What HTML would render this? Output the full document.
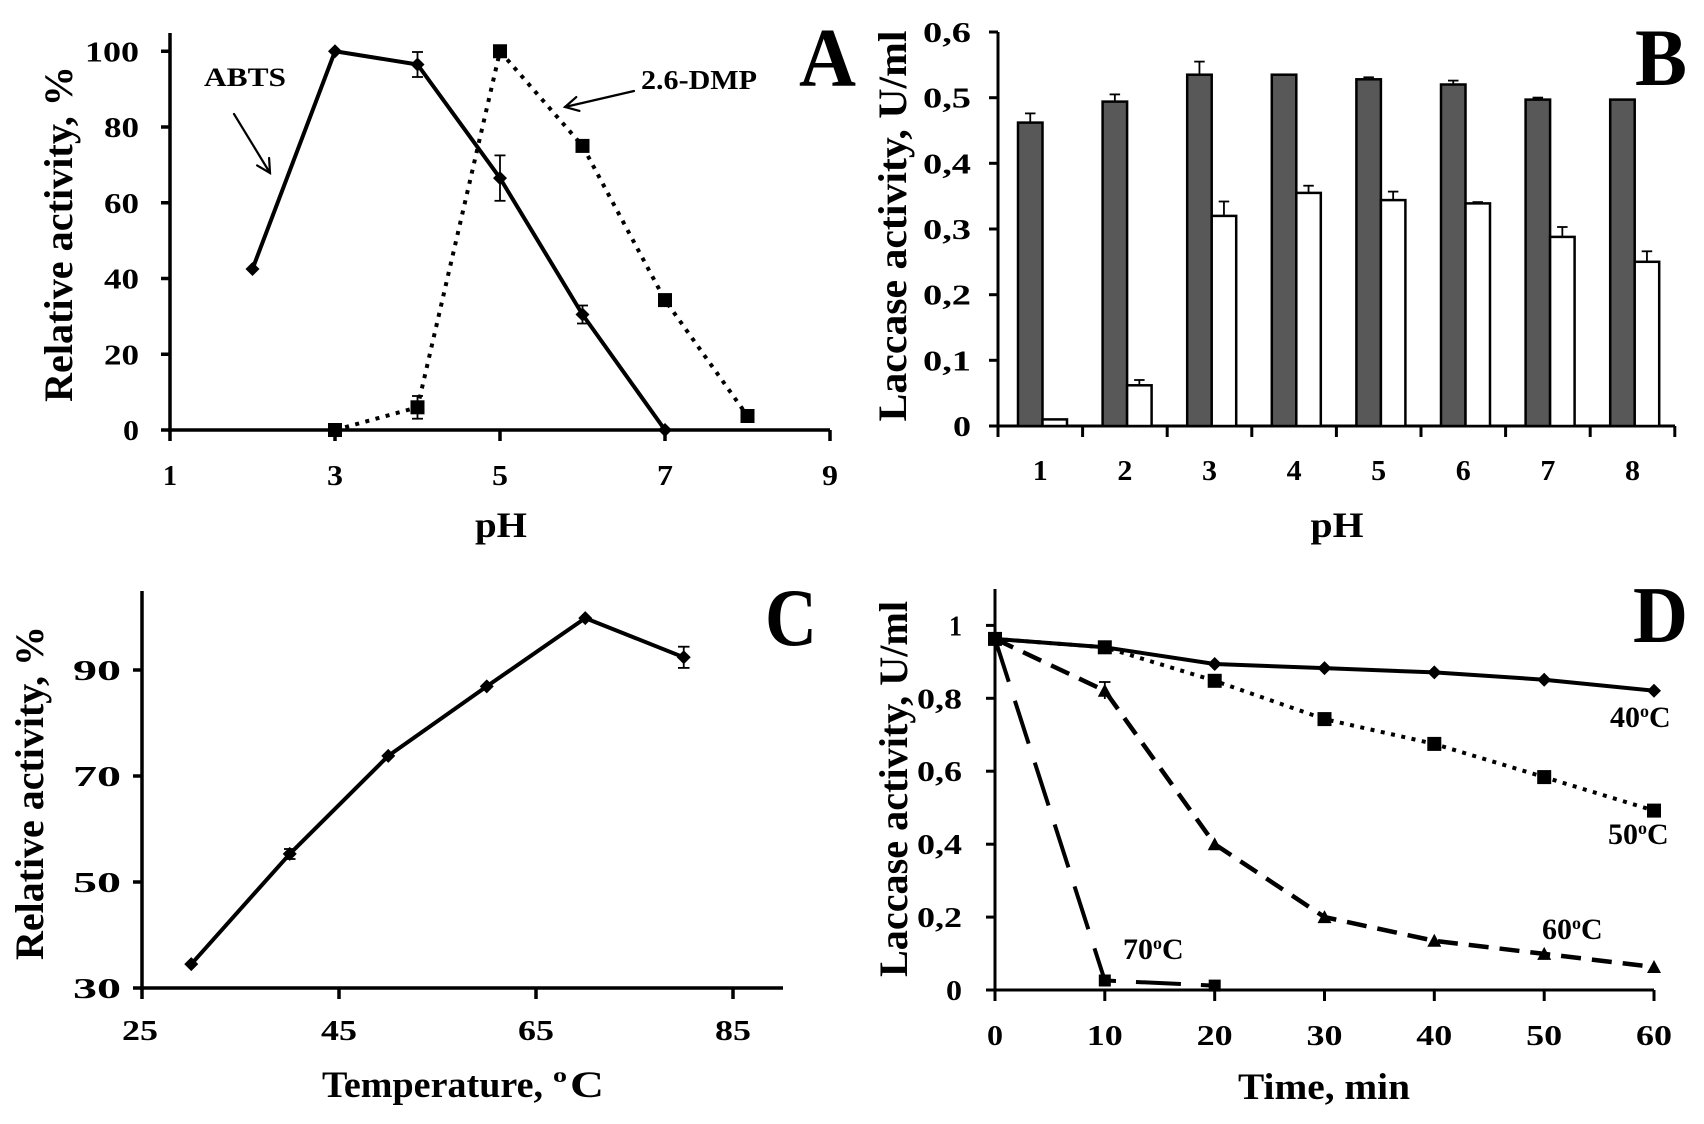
<!DOCTYPE html>
<html><head><meta charset="utf-8">
<style>
html,body{margin:0;padding:0;background:#fff;}
svg{display:block;}
text{font-family:"Liberation Serif","Times New Roman",serif;font-weight:bold;fill:#000;}
</style></head><body>
<svg width="1704" height="1124" viewBox="0 0 1704 1124" xmlns="http://www.w3.org/2000/svg">
<rect width="1704" height="1124" fill="#fff"/>

<!-- ================= PANEL A ================= -->
<g stroke="#000" stroke-width="3.5" fill="none">
  <line x1="170" y1="33" x2="170" y2="432"/>
  <line x1="168" y1="430" x2="830" y2="430"/>
  <line x1="161" y1="430" x2="170" y2="430"/>
  <line x1="161" y1="354.25" x2="170" y2="354.25"/>
  <line x1="161" y1="278.5" x2="170" y2="278.5"/>
  <line x1="161" y1="202.75" x2="170" y2="202.75"/>
  <line x1="161" y1="127" x2="170" y2="127"/>
  <line x1="161" y1="51.25" x2="170" y2="51.25"/>
  <line x1="170" y1="430" x2="170" y2="441"/>
  <line x1="335" y1="430" x2="335" y2="441"/>
  <line x1="500" y1="430" x2="500" y2="441"/>
  <line x1="665" y1="430" x2="665" y2="441"/>
  <line x1="830" y1="430" x2="830" y2="441"/>
</g>
<g font-size="29" text-anchor="end">
  <text x="139" y="440" textLength="16" lengthAdjust="spacingAndGlyphs">0</text>
  <text x="139" y="364.25" textLength="35" lengthAdjust="spacingAndGlyphs">20</text>
  <text x="139" y="288.5" textLength="35" lengthAdjust="spacingAndGlyphs">40</text>
  <text x="139" y="212.75" textLength="35" lengthAdjust="spacingAndGlyphs">60</text>
  <text x="139" y="137" textLength="35" lengthAdjust="spacingAndGlyphs">80</text>
  <text x="139" y="61.25" textLength="54" lengthAdjust="spacingAndGlyphs">100</text>
</g>
<g font-size="29" text-anchor="middle">
  <text x="170" y="485" textLength="14" lengthAdjust="spacingAndGlyphs">1</text>
  <text x="335" y="485" textLength="16" lengthAdjust="spacingAndGlyphs">3</text>
  <text x="500" y="485" textLength="16" lengthAdjust="spacingAndGlyphs">5</text>
  <text x="665" y="485" textLength="16" lengthAdjust="spacingAndGlyphs">7</text>
  <text x="830" y="485" textLength="16" lengthAdjust="spacingAndGlyphs">9</text>
</g>
<text x="501" y="537" font-size="36" text-anchor="middle" textLength="52" lengthAdjust="spacingAndGlyphs">pH</text>
<text transform="translate(72,234) rotate(-90)" font-size="40" text-anchor="middle" textLength="336" lengthAdjust="spacingAndGlyphs">Relative activity, %</text>
<text x="799" y="86" font-size="84" textLength="57" lengthAdjust="spacingAndGlyphs">A</text>

<polyline points="335,430 417.5,407.3 500,51.25 582.5,145.9 665,300.1 747.5,416" fill="none" stroke="#000" stroke-width="4" stroke-dasharray="4 6.5"/>
<polyline points="252.5,269 335,51.25 417.5,64.5 500,178.1 582.5,314.5 665,430" fill="none" stroke="#000" stroke-width="4" stroke-linejoin="round"/>
<g stroke="#000" stroke-width="1.8">
  <line x1="417.5" y1="52" x2="417.5" y2="77"/><line x1="412" y1="52" x2="423" y2="52"/><line x1="412" y1="77" x2="423" y2="77"/>
  <line x1="500" y1="155.4" x2="500" y2="200.8"/><line x1="494.5" y1="155.4" x2="505.5" y2="155.4"/><line x1="494.5" y1="200.8" x2="505.5" y2="200.8"/>
  <line x1="582.5" y1="305.5" x2="582.5" y2="323.5"/><line x1="577" y1="305.5" x2="588" y2="305.5"/><line x1="577" y1="323.5" x2="588" y2="323.5"/>
  <line x1="417.5" y1="396" x2="417.5" y2="418.7"/><line x1="412" y1="396" x2="423" y2="396"/><line x1="412" y1="418.7" x2="423" y2="418.7"/>
</g>
<g fill="#000">
  <path d="M252.5,262 L259.5,269 L252.5,276 L245.5,269 Z"/>
  <path d="M335,44.25 L342,51.25 L335,58.25 L328,51.25 Z"/>
  <path d="M417.5,57.5 L424.5,64.5 L417.5,71.5 L410.5,64.5 Z"/>
  <path d="M500,171.1 L507,178.1 L500,185.1 L493,178.1 Z"/>
  <path d="M582.5,307.5 L589.5,314.5 L582.5,321.5 L575.5,314.5 Z"/>
  <path d="M665,423 L672,430 L665,437 L658,430 Z"/>
  <rect x="328" y="423" width="14" height="14"/>
  <rect x="410.5" y="400.3" width="14" height="14"/>
  <rect x="493" y="44.25" width="14" height="14"/>
  <rect x="575.5" y="138.9" width="14" height="14"/>
  <rect x="658" y="293.1" width="14" height="14"/>
  <rect x="740.5" y="409" width="14" height="14"/>
</g>
<text x="204" y="86" font-size="26" textLength="82" lengthAdjust="spacingAndGlyphs">ABTS</text>
<g stroke="#000" stroke-width="2.2" fill="none" stroke-linecap="round">
  <line x1="234" y1="114" x2="270" y2="173"/>
  <polyline points="269.1,158 270,173 257.1,165.4"/>
</g>
<text x="641" y="89" font-size="27" textLength="116" lengthAdjust="spacingAndGlyphs">2.6-DMP</text>
<g stroke="#000" stroke-width="2.2" fill="none" stroke-linecap="round">
  <line x1="634" y1="91" x2="565" y2="107"/>
  <polyline points="579.5,110.9 565,107 576.3,97.1"/>
</g>

<!-- ================= PANEL B ================= -->
<g stroke="#000" stroke-width="3" fill="none">
  <line x1="998" y1="32" x2="998" y2="427.5"/>
  <line x1="996.5" y1="426" x2="1675" y2="426"/>
  <line x1="989" y1="426" x2="998" y2="426"/>
  <line x1="989" y1="360.3" x2="998" y2="360.3"/>
  <line x1="989" y1="294.7" x2="998" y2="294.7"/>
  <line x1="989" y1="229" x2="998" y2="229"/>
  <line x1="989" y1="163.3" x2="998" y2="163.3"/>
  <line x1="989" y1="97.7" x2="998" y2="97.7"/>
  <line x1="989" y1="32" x2="998" y2="32"/>
  <line x1="998" y1="426" x2="998" y2="437"/>
  <line x1="1082.6" y1="426" x2="1082.6" y2="437"/>
  <line x1="1167.2" y1="426" x2="1167.2" y2="437"/>
  <line x1="1251.8" y1="426" x2="1251.8" y2="437"/>
  <line x1="1336.4" y1="426" x2="1336.4" y2="437"/>
  <line x1="1421" y1="426" x2="1421" y2="437"/>
  <line x1="1505.6" y1="426" x2="1505.6" y2="437"/>
  <line x1="1590.2" y1="426" x2="1590.2" y2="437"/>
  <line x1="1674.8" y1="426" x2="1674.8" y2="437"/>
</g>
<g font-size="29" text-anchor="end">
  <text x="971" y="436" textLength="18" lengthAdjust="spacingAndGlyphs">0</text>
  <text x="971" y="370.3" textLength="48" lengthAdjust="spacingAndGlyphs">0,1</text>
  <text x="971" y="304.7" textLength="48" lengthAdjust="spacingAndGlyphs">0,2</text>
  <text x="971" y="239" textLength="48" lengthAdjust="spacingAndGlyphs">0,3</text>
  <text x="971" y="173.3" textLength="48" lengthAdjust="spacingAndGlyphs">0,4</text>
  <text x="971" y="107.7" textLength="48" lengthAdjust="spacingAndGlyphs">0,5</text>
  <text x="971" y="42" textLength="48" lengthAdjust="spacingAndGlyphs">0,6</text>
</g>
<g font-size="29" text-anchor="middle">
  <text x="1040.3" y="480" textLength="15" lengthAdjust="spacingAndGlyphs">1</text>
  <text x="1124.9" y="480" textLength="15" lengthAdjust="spacingAndGlyphs">2</text>
  <text x="1209.5" y="480" textLength="15" lengthAdjust="spacingAndGlyphs">3</text>
  <text x="1294.1" y="480" textLength="15" lengthAdjust="spacingAndGlyphs">4</text>
  <text x="1378.7" y="480" textLength="15" lengthAdjust="spacingAndGlyphs">5</text>
  <text x="1463.3" y="480" textLength="15" lengthAdjust="spacingAndGlyphs">6</text>
  <text x="1547.9" y="480" textLength="15" lengthAdjust="spacingAndGlyphs">7</text>
  <text x="1632.5" y="480" textLength="15" lengthAdjust="spacingAndGlyphs">8</text>
</g>
<text x="1337" y="537" font-size="36" text-anchor="middle" textLength="53" lengthAdjust="spacingAndGlyphs">pH</text>
<text transform="translate(906,226) rotate(-90)" font-size="40" text-anchor="middle" textLength="391" lengthAdjust="spacingAndGlyphs">Laccase activity, U/ml</text>
<text x="1635" y="85" font-size="82" textLength="52" lengthAdjust="spacingAndGlyphs">B</text>

<g stroke="#000" stroke-width="2.5">
  <rect x="1018" y="122.6" width="24.5" height="303.4" fill="#585858"/>
  <rect x="1102.6" y="101.6" width="24.5" height="324.4" fill="#585858"/>
  <rect x="1187.2" y="74.7" width="24.5" height="351.3" fill="#585858"/>
  <rect x="1271.8" y="74.7" width="24.5" height="351.3" fill="#585858"/>
  <rect x="1356.4" y="79.3" width="24.5" height="346.7" fill="#585858"/>
  <rect x="1441" y="84.5" width="24.5" height="341.5" fill="#585858"/>
  <rect x="1525.6" y="99.6" width="24.5" height="326.4" fill="#585858"/>
  <rect x="1610.2" y="99.6" width="24.5" height="326.4" fill="#585858"/>

  <rect x="1042.5" y="419.4" width="24.5" height="6.6" fill="#fff"/>
  <rect x="1127.1" y="385.3" width="24.5" height="40.7" fill="#fff"/>
  <rect x="1211.7" y="215.9" width="24.5" height="210.1" fill="#fff"/>
  <rect x="1296.3" y="192.9" width="24.5" height="233.1" fill="#fff"/>
  <rect x="1380.9" y="200.1" width="24.5" height="225.9" fill="#fff"/>
  <rect x="1465.5" y="203.4" width="24.5" height="222.6" fill="#fff"/>
  <rect x="1550.1" y="236.9" width="24.5" height="189.1" fill="#fff"/>
  <rect x="1634.7" y="261.8" width="24.5" height="164.2" fill="#fff"/>
</g>
<g stroke="#000" stroke-width="1.8">
  <line x1="1030.25" y1="122.6" x2="1030.25" y2="113.4"/><line x1="1025" y1="113.4" x2="1035.5" y2="113.4"/>
  <line x1="1114.85" y1="101.6" x2="1114.85" y2="94.4"/><line x1="1109.6" y1="94.4" x2="1120.1" y2="94.4"/>
  <line x1="1199.45" y1="74.7" x2="1199.45" y2="61.6"/><line x1="1194.2" y1="61.6" x2="1204.7" y2="61.6"/>
  <line x1="1368.65" y1="79.3" x2="1368.65" y2="77.3"/><line x1="1363.4" y1="77.3" x2="1373.9" y2="77.3"/>
  <line x1="1453.25" y1="84.5" x2="1453.25" y2="80.6"/><line x1="1448" y1="80.6" x2="1458.5" y2="80.6"/>
  <line x1="1537.85" y1="99.6" x2="1537.85" y2="97.6"/><line x1="1532.6" y1="97.6" x2="1543.1" y2="97.6"/>

  <line x1="1139.35" y1="385.3" x2="1139.35" y2="380"/><line x1="1134.1" y1="380" x2="1144.6" y2="380"/>
  <line x1="1223.95" y1="215.9" x2="1223.95" y2="201.5"/><line x1="1218.7" y1="201.5" x2="1229.2" y2="201.5"/>
  <line x1="1308.55" y1="192.9" x2="1308.55" y2="185.7"/><line x1="1303.3" y1="185.7" x2="1313.8" y2="185.7"/>
  <line x1="1393.15" y1="200.1" x2="1393.15" y2="191.6"/><line x1="1387.9" y1="191.6" x2="1398.4" y2="191.6"/>
  <line x1="1477.75" y1="203.4" x2="1477.75" y2="202.1"/><line x1="1472.5" y1="202.1" x2="1483" y2="202.1"/>
  <line x1="1562.35" y1="236.9" x2="1562.35" y2="227"/><line x1="1557.1" y1="227" x2="1567.6" y2="227"/>
  <line x1="1646.95" y1="261.8" x2="1646.95" y2="251.3"/><line x1="1641.7" y1="251.3" x2="1652.2" y2="251.3"/>
</g>

<!-- ================= PANEL C ================= -->
<g stroke="#000" stroke-width="3.5" fill="none">
  <line x1="142" y1="591" x2="142" y2="990"/>
  <line x1="140" y1="988" x2="783" y2="988"/>
  <line x1="133" y1="988" x2="142" y2="988"/>
  <line x1="133" y1="882" x2="142" y2="882"/>
  <line x1="133" y1="776" x2="142" y2="776"/>
  <line x1="133" y1="670" x2="142" y2="670"/>
  <line x1="142" y1="988" x2="142" y2="999"/>
  <line x1="339" y1="988" x2="339" y2="999"/>
  <line x1="536" y1="988" x2="536" y2="999"/>
  <line x1="733" y1="988" x2="733" y2="999"/>
</g>
<g font-size="29" text-anchor="end">
  <text x="121" y="998" textLength="48" lengthAdjust="spacingAndGlyphs">30</text>
  <text x="121" y="892" textLength="48" lengthAdjust="spacingAndGlyphs">50</text>
  <text x="121" y="786" textLength="48" lengthAdjust="spacingAndGlyphs">70</text>
  <text x="121" y="680" textLength="48" lengthAdjust="spacingAndGlyphs">90</text>
</g>
<g font-size="29" text-anchor="middle">
  <text x="140" y="1040" textLength="36" lengthAdjust="spacingAndGlyphs">25</text>
  <text x="339" y="1040" textLength="36" lengthAdjust="spacingAndGlyphs">45</text>
  <text x="536" y="1040" textLength="36" lengthAdjust="spacingAndGlyphs">65</text>
  <text x="733" y="1040" textLength="36" lengthAdjust="spacingAndGlyphs">85</text>
</g>
<text x="322" y="1097" font-size="37" textLength="221" lengthAdjust="spacingAndGlyphs">Temperature,</text>
<text x="553" y="1082" font-size="21" textLength="14" lengthAdjust="spacingAndGlyphs">o</text>
<text x="570" y="1097" font-size="37" textLength="34" lengthAdjust="spacingAndGlyphs">C</text>
<text transform="translate(43,793) rotate(-90)" font-size="40" text-anchor="middle" textLength="334" lengthAdjust="spacingAndGlyphs">Relative activity, %</text>
<text x="765" y="645" font-size="82" textLength="52" lengthAdjust="spacingAndGlyphs">C</text>

<polyline points="191.25,964.15 289.75,853.9 388.25,755.9 486.75,686.4 585.25,618.1 683.75,657.3" fill="none" stroke="#000" stroke-width="4" stroke-linejoin="round"/>
<g stroke="#000" stroke-width="1.8">
  <line x1="683.75" y1="646.7" x2="683.75" y2="667.9"/><line x1="678" y1="646.7" x2="689.5" y2="646.7"/><line x1="678" y1="667.9" x2="689.5" y2="667.9"/>
  <line x1="289.75" y1="849" x2="289.75" y2="859"/><line x1="284" y1="849" x2="295.5" y2="849"/><line x1="284" y1="859" x2="295.5" y2="859"/>
</g>
<g fill="#000">
  <path d="M191.25,957.15 L198.25,964.15 L191.25,971.15 L184.25,964.15 Z"/>
  <path d="M289.75,846.9 L296.75,853.9 L289.75,860.9 L282.75,853.9 Z"/>
  <path d="M388.25,748.9 L395.25,755.9 L388.25,762.9 L381.25,755.9 Z"/>
  <path d="M486.75,679.4 L493.75,686.4 L486.75,693.4 L479.75,686.4 Z"/>
  <path d="M585.25,611.1 L592.25,618.1 L585.25,625.1 L578.25,618.1 Z"/>
  <path d="M683.75,650.3 L690.75,657.3 L683.75,664.3 L676.75,657.3 Z"/>
</g>

<!-- ================= PANEL D ================= -->
<g stroke="#000" stroke-width="3" fill="none">
  <line x1="995" y1="589" x2="995" y2="1001"/>
  <line x1="993.5" y1="990" x2="1654" y2="990"/>
  <line x1="986" y1="990" x2="995" y2="990"/>
  <line x1="986" y1="917.1" x2="995" y2="917.1"/>
  <line x1="986" y1="844.2" x2="995" y2="844.2"/>
  <line x1="986" y1="771.2" x2="995" y2="771.2"/>
  <line x1="986" y1="698.3" x2="995" y2="698.3"/>
  <line x1="986" y1="625.4" x2="995" y2="625.4"/>
  <line x1="1104.8" y1="990" x2="1104.8" y2="1001"/>
  <line x1="1214.7" y1="990" x2="1214.7" y2="1001"/>
  <line x1="1324.5" y1="990" x2="1324.5" y2="1001"/>
  <line x1="1434.3" y1="990" x2="1434.3" y2="1001"/>
  <line x1="1544.2" y1="990" x2="1544.2" y2="1001"/>
  <line x1="1654" y1="990" x2="1654" y2="1001"/>
</g>
<g font-size="29" text-anchor="end">
  <text x="962" y="1000" textLength="16" lengthAdjust="spacingAndGlyphs">0</text>
  <text x="962" y="927.1" textLength="45" lengthAdjust="spacingAndGlyphs">0,2</text>
  <text x="962" y="854.2" textLength="45" lengthAdjust="spacingAndGlyphs">0,4</text>
  <text x="962" y="781.2" textLength="45" lengthAdjust="spacingAndGlyphs">0,6</text>
  <text x="962" y="708.3" textLength="45" lengthAdjust="spacingAndGlyphs">0,8</text>
  <text x="962" y="635.4" textLength="13" lengthAdjust="spacingAndGlyphs">1</text>
</g>
<g font-size="29" text-anchor="middle">
  <text x="995" y="1045" textLength="16" lengthAdjust="spacingAndGlyphs">0</text>
  <text x="1104.8" y="1045" textLength="36" lengthAdjust="spacingAndGlyphs">10</text>
  <text x="1214.7" y="1045" textLength="36" lengthAdjust="spacingAndGlyphs">20</text>
  <text x="1324.5" y="1045" textLength="36" lengthAdjust="spacingAndGlyphs">30</text>
  <text x="1434.3" y="1045" textLength="36" lengthAdjust="spacingAndGlyphs">40</text>
  <text x="1544.2" y="1045" textLength="36" lengthAdjust="spacingAndGlyphs">50</text>
  <text x="1654" y="1045" textLength="36" lengthAdjust="spacingAndGlyphs">60</text>
</g>
<text x="1238" y="1099" font-size="37" textLength="172" lengthAdjust="spacingAndGlyphs">Time, min</text>
<text transform="translate(907,789) rotate(-90)" font-size="40" text-anchor="middle" textLength="376" lengthAdjust="spacingAndGlyphs">Laccase activity, U/ml</text>
<text x="1633" y="642" font-size="80" textLength="55" lengthAdjust="spacingAndGlyphs">D</text>

<polyline points="995,638.9 1104.8,980.5 1214.7,985.6" fill="none" stroke="#000" stroke-width="4" stroke-dasharray="45 20"/>
<polyline points="995,638.9 1104.8,690.7 1214.7,844.2 1324.5,917.1 1434.3,940.8 1544.2,953.9 1654,967" fill="none" stroke="#000" stroke-width="4.5" stroke-dasharray="20 11"/>
<polyline points="995,638.9 1104.8,647.3 1214.7,680.8 1324.5,719.1 1434.3,743.9 1544.2,777.1 1654,810.6" fill="none" stroke="#000" stroke-width="4" stroke-dasharray="4 6.5"/>
<polyline points="995,638.9 1104.8,647.3 1214.7,664 1324.5,668.1 1434.3,672.4 1544.2,679.7 1654,690.7" fill="none" stroke="#000" stroke-width="4" stroke-linejoin="round"/>
<g stroke="#000" stroke-width="1.8">
  <line x1="1104.8" y1="682" x2="1104.8" y2="699"/><line x1="1099" y1="682" x2="1110.5" y2="682"/>
</g>
<g fill="#000">
  <rect x="988" y="631.9" width="14" height="14"/>
  <rect x="1097.8" y="640.3" width="14" height="14"/>
  <rect x="1207.7" y="673.8" width="14" height="14"/>
  <rect x="1317.5" y="712.1" width="14" height="14"/>
  <rect x="1427.3" y="736.9" width="14" height="14"/>
  <rect x="1537.2" y="770.1" width="14" height="14"/>
  <rect x="1647" y="803.6" width="14" height="14"/>
  <path d="M1104.8,640.3 L1111.8,647.3 L1104.8,654.3 L1097.8,647.3 Z"/>
  <path d="M1214.7,657 L1221.7,664 L1214.7,671 L1207.7,664 Z"/>
  <path d="M1324.5,661.1 L1331.5,668.1 L1324.5,675.1 L1317.5,668.1 Z"/>
  <path d="M1434.3,665.4 L1441.3,672.4 L1434.3,679.4 L1427.3,672.4 Z"/>
  <path d="M1544.2,672.7 L1551.2,679.7 L1544.2,686.7 L1537.2,679.7 Z"/>
  <path d="M1654,683.7 L1661,690.7 L1654,697.7 L1647,690.7 Z"/>
  <path d="M1104.8,683.7 L1111.8,696.7 L1097.8,696.7 Z"/>
  <path d="M1214.7,837.2 L1221.7,850.2 L1207.7,850.2 Z"/>
  <path d="M1324.5,910.1 L1331.5,923.1 L1317.5,923.1 Z"/>
  <path d="M1434.3,933.8 L1441.3,946.8 L1427.3,946.8 Z"/>
  <path d="M1544.2,946.9 L1551.2,959.9 L1537.2,959.9 Z"/>
  <path d="M1654,960 L1661,973 L1647,973 Z"/>
  <rect x="1098.8" y="974.5" width="12" height="12"/>
  <rect x="1208.7" y="979.6" width="12" height="12"/>
</g>
<g font-size="30">
  <text x="1610" y="727">40<tspan font-size="18" dy="-10">o</tspan><tspan dy="10">C</tspan></text>
  <text x="1608" y="844">50<tspan font-size="18" dy="-10">o</tspan><tspan dy="10">C</tspan></text>
  <text x="1542" y="939">60<tspan font-size="18" dy="-10">o</tspan><tspan dy="10">C</tspan></text>
  <text x="1123" y="959">70<tspan font-size="18" dy="-10">o</tspan><tspan dy="10">C</tspan></text>
</g>
</svg>
</body></html>
